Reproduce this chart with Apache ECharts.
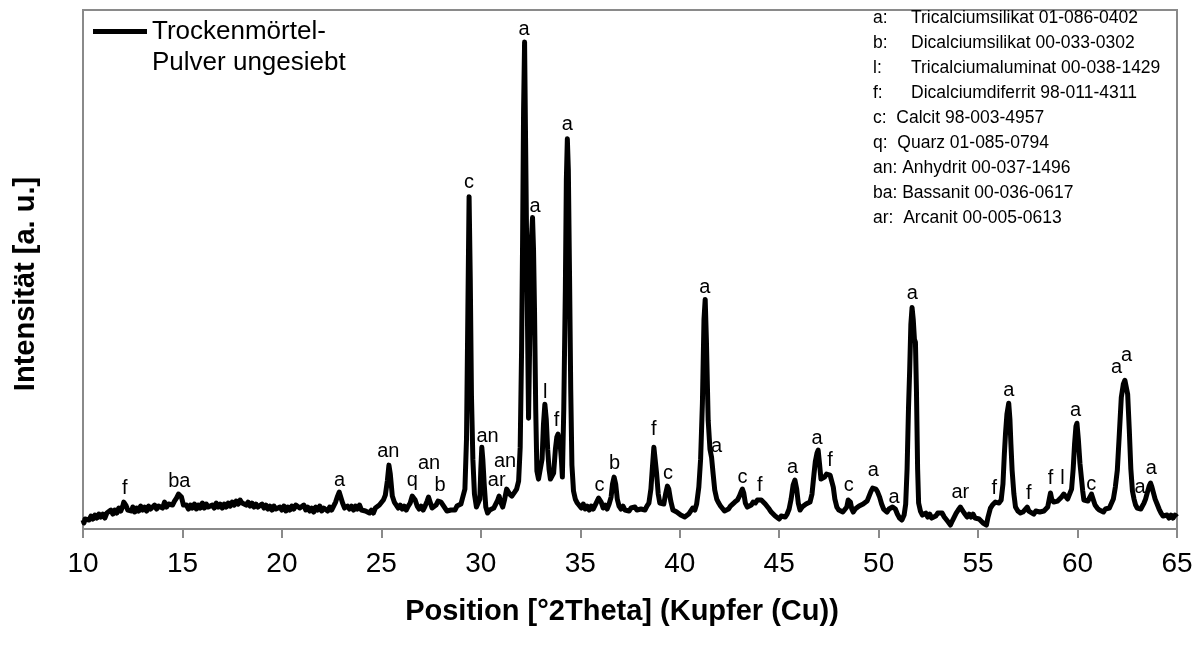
<!DOCTYPE html>
<html>
<head>
<meta charset="utf-8">
<script src="https://cdn.jsdelivr.net/npm/echarts@6/dist/echarts.min.js"></script>
<style>
html,body{margin:0;padding:0;background:#fff;}
#chart{width:1201px;height:648px;}
</style>
</head>
<body>
<div id="chart"></div>
<script>
// XRD scan: [2Theta, intensity (a.u.)]
const scan = [
[10.00,9],[10.05,6],[10.10,10],[10.15,8],[10.2,12],[10.3,9],[10.4,13],[10.5,10],[10.6,14],[10.7,11],[10.8,15],[10.9,12],
[11.0,15],[11.1,11],[11.2,16],[11.3,14],[11.4,19],[11.5,15],[11.6,19],[11.7,16],[11.8,21],[11.9,18],[12.0,23],[12.05,27],
[12.1,28],[12.15,24],[12.25,19],[12.35,21],[12.45,18],[12.5,22],[12.6,17],[12.7,21],[12.8,18],[12.9,23],[13.0,19],[13.1,22],
[13.2,18],[13.3,23],[13.4,20],[13.5,19],[13.6,24],[13.7,20],[13.8,23],[13.9,25],[14.0,21],[14.1,27],[14.2,22],[14.3,25],
[14.4,27],[14.5,24],[14.6,28],[14.7,31],[14.8,35],[14.87,37],[14.95,32],[15.05,24],[15.15,22],[15.2,24],[15.3,20],[15.4,24],
[15.5,21],[15.6,25],[15.7,20],[15.8,24],[15.9,21],[16.0,26],[16.1,21],[16.2,25],[16.3,22],[16.4,20],[16.5,24],[16.6,21],
[16.7,26],[16.8,22],[16.9,25],[17.0,21],[17.1,25],[17.2,22],[17.3,26],[17.4,23],[17.5,27],[17.6,24],[17.7,28],[17.8,25],
[17.9,29],[18.0,26],[18.1,27],[18.2,24],[18.3,27],[18.4,23],[18.5,26],[18.6,22],[18.7,25],[18.8,22],[18.9,21],[19.0,25],
[19.1,21],[19.2,24],[19.3,20],[19.4,23],[19.5,19],[19.6,23],[19.7,20],[19.8,18],[19.9,22],[20.0,19],[20.1,23],[20.2,18],
[20.3,22],[20.4,19],[20.5,23],[20.6,20],[20.7,24],[20.8,25],[20.9,21],[21.0,20],[21.1,24],[21.2,19],[21.3,22],[21.4,18],
[21.5,21],[21.6,17],[21.7,22],[21.8,19],[21.9,23],[22.0,18],[22.1,21],[22.2,22],[22.3,18],[22.4,22],[22.5,19],[22.6,23],
[22.7,27],[22.8,33],[22.88,37],[22.95,35],[23.05,26],[23.15,21],[23.3,23],[23.4,20],[23.5,23],[23.6,19],[23.7,23],[23.8,20],
[23.9,24],[24.0,19],[24.1,21],[24.2,18],[24.3,19],[24.4,16],[24.5,19],[24.6,16],[24.7,21],[24.8,20],[24.9,24],[25.0,25],
[25.1,29],[25.2,34],[25.3,48],[25.38,64],[25.45,55],[25.55,33],[25.65,27],[25.75,24],[25.85,21],[25.95,24],[26.05,20],
[26.15,23],[26.25,19],[26.35,23],[26.45,26],[26.55,33],[26.62,35],[26.7,29],[26.8,23],[26.9,20],[27.0,23],[27.1,19],
[27.2,23],[27.3,28],[27.37,32],[27.45,27],[27.55,21],[27.65,23],[27.75,24],[27.85,28],[27.92,30],[28.0,27],[28.1,24],
[28.2,21],[28.3,18],[28.4,17],[28.5,19],[28.6,21],[28.7,19],[28.8,23],[28.9,21],[29.0,25],[29.1,27],[29.2,40],[29.28,90],
[29.35,220],[29.41,333],[29.47,250],[29.53,133],[29.6,70],[29.68,35],[29.78,22],[29.88,20],[29.95,30],[30.0,60],[30.05,82],
[30.1,70],[30.17,45],[30.25,22],[30.34,16],[30.45,19],[30.55,18],[30.65,21],[30.75,23],[30.85,29],[30.92,33],[31.0,27],
[31.1,22],[31.2,30],[31.3,40],[31.36,42],[31.45,35],[31.56,33],[31.7,37],[31.8,40],[31.9,48],[31.98,82],[32.05,180],
[32.1,288],[32.15,420],[32.2,488],[32.25,390],[32.32,254],[32.4,111],[32.48,219],[32.54,290],[32.6,312],[32.65,280],
[32.7,219],[32.76,120],[32.82,58],[32.9,50],[32.99,52],[33.08,70],[33.15,105],[33.22,125],[33.29,110],[33.36,80],[33.43,60],
[33.5,50],[33.58,52],[33.66,56],[33.75,80],[33.82,92],[33.88,95],[33.94,88],[34.0,82],[34.05,70],[34.1,52],[34.17,120],
[34.25,240],[34.3,350],[34.35,391],[34.4,360],[34.46,254],[34.52,140],[34.58,64],[34.66,38],[34.75,30],[34.85,26],[34.95,24],
[35.05,21],[35.15,25],[35.25,20],[35.35,23],[35.45,19],[35.55,23],[35.65,20],[35.75,24],[35.85,26],[35.92,31],[35.97,33],
[36.05,27],[36.15,21],[36.26,24],[36.35,20],[36.45,25],[36.55,32],[36.62,45],[36.7,52],[36.78,45],[36.86,30],[36.95,23],
[37.05,20],[37.15,23],[37.25,19],[37.35,20],[37.45,18],[37.55,21],[37.65,19],[37.75,22],[37.85,19],[37.95,21],[38.05,20],
[38.15,22],[38.25,19],[38.35,23],[38.45,26],[38.55,40],[38.62,60],[38.7,82],[38.76,80],[38.84,55],[38.92,35],[39.0,26],
[39.1,24],[39.2,25],[39.3,36],[39.38,43],[39.45,40],[39.55,28],[39.66,19],[39.75,21],[39.85,17],[39.95,17],[40.05,14],
[40.15,15],[40.25,12],[40.35,13],[40.45,15],[40.55,18],[40.65,21],[40.76,19],[40.85,25],[40.96,42],[41.05,70],[41.14,126],
[41.22,210],[41.28,230],[41.34,190],[41.43,109],[41.52,80],[41.6,72],[41.68,55],[41.76,39],[41.86,30],[41.96,26],[42.05,23],
[42.15,21],[42.25,18],[42.35,20],[42.45,20],[42.55,23],[42.65,23],[42.77,27],[42.9,29],[43.0,33],[43.08,37],[43.15,40],
[43.22,36],[43.3,26],[43.4,22],[43.5,24],[43.6,24],[43.69,27],[43.8,26],[43.9,29],[44.0,30],[44.1,29],[44.2,27],[44.3,25],
[44.4,23],[44.5,20],[44.6,17],[44.7,15],[44.8,13],[44.9,12],[45.0,10],[45.1,13],[45.2,11],[45.3,12],[45.4,15],[45.5,20],
[45.6,30],[45.7,44],[45.79,49],[45.88,40],[45.96,26],[46.05,19],[46.15,22],[46.25,21],[46.35,25],[46.45,24],[46.55,27],
[46.65,35],[46.75,55],[46.82,68],[46.9,76],[46.96,79],[47.03,65],[47.1,50],[47.18,48],[47.28,52],[47.38,55],[47.47,56],
[47.56,54],[47.64,48],[47.72,42],[47.8,30],[47.9,22],[48.0,19],[48.1,21],[48.2,17],[48.3,19],[48.4,22],[48.47,29],[48.52,31],
[48.58,27],[48.65,20],[48.72,17],[48.82,20],[48.92,20],[49.02,23],[49.12,22],[49.22,25],[49.32,25],[49.42,28],[49.52,33],
[49.62,38],[49.7,41],[49.78,42],[49.86,40],[49.95,37],[50.05,32],[50.15,25],[50.25,20],[50.32,19],[50.42,17],[50.52,20],
[50.62,19],[50.7,22],[50.76,22],[50.84,20],[50.94,15],[51.05,11],[51.17,9],[51.28,14],[51.36,25],[51.43,60],[51.5,120],
[51.56,159],[51.62,205],[51.68,222],[51.74,210],[51.8,190],[51.85,187],[51.9,140],[51.96,60],[52.01,26],[52.1,18],[52.2,14],
[52.27,12],[52.37,16],[52.47,12],[52.57,15],[52.67,11],[52.77,12],[52.87,13],[52.97,16],[53.07,17],[53.19,16],[53.3,12],
[53.4,10],[53.5,7],[53.61,4],[53.7,8],[53.8,12],[53.9,16],[54.0,19],[54.11,22],[54.2,20],[54.3,16],[54.45,12],[54.55,15],
[54.65,12],[54.75,15],[54.85,11],[54.95,13],[55.05,10],[55.15,8],[55.25,6],[55.35,5],[55.42,4],[55.5,12],[55.62,21],
[55.72,24],[55.8,26],[55.87,27],[55.95,25],[56.05,26],[56.16,29],[56.25,45],[56.32,75],[56.38,96],[56.45,115],[56.54,126],
[56.6,110],[56.65,85],[56.71,59],[56.8,35],[56.88,22],[57.0,18],[57.13,16],[57.25,17],[57.35,19],[57.47,22],[57.55,18],
[57.65,17],[57.8,15],[57.9,18],[58.0,16],[58.1,17],[58.2,17],[58.31,18],[58.4,20],[58.5,22],[58.58,30],[58.64,36],[58.7,30],
[58.8,27],[58.89,26],[59.0,28],[59.1,30],[59.2,32],[59.31,35],[59.4,33],[59.5,30],[59.6,29],[59.7,40],[59.78,60],[59.85,85],
[59.92,103],[59.97,106],[60.04,90],[60.12,66],[60.2,50],[60.26,38],[60.32,29],[60.42,27],[60.52,28],[60.62,32],[60.7,35],
[60.78,30],[60.88,24],[60.99,21],[61.1,19],[61.2,21],[61.3,17],[61.4,20],[61.5,18],[61.6,21],[61.7,22],[61.8,30],[61.9,42],
[62.0,59],[62.1,95],[62.2,132],[62.3,145],[62.38,149],[62.45,148],[62.52,135],[62.6,100],[62.68,60],[62.76,38],[62.84,30],
[62.92,24],[63.0,21],[63.09,19],[63.18,20],[63.26,23],[63.34,26],[63.42,30],[63.5,36],[63.6,43],[63.67,46],[63.74,42],
[63.82,36],[63.9,30],[64.0,25],[64.1,20],[64.2,16],[64.3,13],[64.4,12],[64.5,14],[64.6,11],[64.7,14],[64.8,11],[64.9,14],[65.0,12]
];

// Peak annotations (phase letters)
const peakTheta = [12.1,14.84,22.9,25.35,26.55,27.4,27.95,29.41,30.34,30.8,31.22,32.18,32.73,33.24,33.8,34.35,35.97,36.73,
  38.7,39.41,41.26,41.85,43.16,44.03,45.67,46.91,47.55,48.5,49.73,50.77,51.69,54.11,55.82,56.54,57.55,58.64,59.24,59.9,
  60.69,61.96,62.47,63.14,63.71];
const peakInt = [41,48,49,78,49,66,44,347,93,49,68,500,323,137,109,405,44,66,
  100,56,242,83,52,44,62,91,69,44,59,32,236,37,41,139,36,51,51,119,
  45,162,174,42,61];
const peakText = ['f','ba','a','an','q','an','b','c','an','ar','an','a','a','l','f','a','c','b',
  'f','c','a','a','c','f','a','a','f','c','a','a','a','ar','f','a','f','f','l','a',
  'c','a','a','a','a'];

// Phase key: code column and description
const phaseCodes = ['a:', 'b:', 'l:', 'f:', 'c:  ', 'q:  ', 'an: ', 'ba: ', 'ar:  '];
const phaseTabbed = [true, true, true, true, false, false, false, false, false];
const phaseNames = [
  'Tricalciumsilikat 01-086-0402',
  'Dicalciumsilikat 00-033-0302',
  'Tricalciumaluminat 00-038-1429',
  'Dicalciumdiferrit 98-011-4311',
  'Calcit 98-003-4957',
  'Quarz 01-085-0794',
  'Anhydrit 00-037-1496',
  'Bassanit 00-036-0617',
  'Arcanit 00-005-0613'
];

const seriesName = 'Trockenmörtel-\nPulver ungesiebt';
const FONT = '"Liberation Sans", Arial, Helvetica, sans-serif';
const GRAY = '#8a8a8a';

const phaseText = phaseCodes.map((c, i) =>
  (phaseTabbed[i] ? '{t|' + c + '}' : '{n|' + c + '}') + '{n|' + phaseNames[i] + '}').join('\n');

const chart = echarts.init(document.getElementById('chart'), null, {renderer: 'canvas'});
chart.setOption({
  animation: false,
  backgroundColor: '#ffffff',
  textStyle: {fontFamily: FONT},
  grid: {left: 83, right: 24, top: 10, bottom: 119, show: true, borderColor: GRAY, borderWidth: 2, backgroundColor: 'transparent'},
  legend: {
    data: [seriesName],
    left: 93, top: -15, padding: 0,
    icon: 'rect', itemWidth: 54, itemHeight: 5, itemGap: 0,
    itemStyle: {color: '#000'},
    formatter: (n) => ' \n' + n,
    textStyle: {fontFamily: FONT, fontSize: 26, lineHeight: 31, color: '#000'}
  },
  xAxis: {
    type: 'value', min: 10, max: 65, interval: 5,
    name: 'Position [°2Theta] (Kupfer (Cu))',
    nameLocation: 'middle', nameGap: 68,
    nameTextStyle: {fontFamily: FONT, fontSize: 29, fontWeight: 'bold', color: '#000', padding: [0, 16, 0, 0]},
    axisLine: {show: true, onZero: false, lineStyle: {color: GRAY, width: 2}},
    axisTick: {show: true, inside: false, length: 9, lineStyle: {color: GRAY, width: 2}},
    axisLabel: {fontFamily: FONT, fontSize: 28, color: '#000', margin: 21},
    splitLine: {show: false}
  },
  yAxis: {
    type: 'value', min: 0, max: 520,
    name: 'Intensität [a. u.]',
    nameLocation: 'middle', nameGap: 43,
    nameTextStyle: {fontFamily: FONT, fontSize: 29, fontWeight: 'bold', color: '#000', padding: [0, 29, 0, 0]},
    axisLine: {show: false}, axisTick: {show: false}, axisLabel: {show: false}, splitLine: {show: false}
  },
  graphic: [{
    type: 'text', left: 873, top: 6,
    style: {
      text: phaseText, fontFamily: FONT, fontSize: 17.5, lineHeight: 25, fill: '#000',
      rich: {
        t: {fontFamily: FONT, fontSize: 17.5, lineHeight: 25, width: 38, fill: '#000'},
        n: {fontFamily: FONT, fontSize: 17.5, lineHeight: 25, fill: '#000'}
      }
    }
  }],
  series: [
    {
      name: seriesName, type: 'line', data: scan, symbol: 'none', smooth: false,
      lineStyle: {color: '#000', width: 5, join: 'round'}, itemStyle: {color: '#000'}, z: 2
    },
    {
      name: 'labels', type: 'scatter', symbolSize: 0, silent: true, z: 3,
      itemStyle: {color: '#000', opacity: 1},
      data: peakTheta.map((t, i) => ({value: [t, peakInt[i]], name: peakText[i]})),
      label: {show: true, position: 'inside', formatter: '{b}', fontFamily: FONT, fontSize: 20, color: '#000', opacity: 1}
    }
  ]
});
</script>
</body>
</html>
